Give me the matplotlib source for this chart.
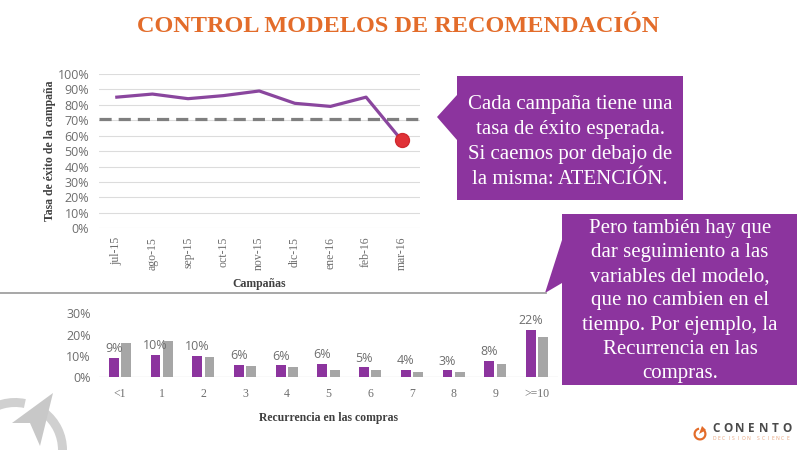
import matplotlib
matplotlib.use("Agg")
import matplotlib.pyplot as plt
from matplotlib.patches import Polygon, Wedge
from matplotlib.ticker import PercentFormatter

# ---------------- data ----------------
campaigns = ["jul-15", "ago-15", "sep-15", "oct-15", "nov-15", "dic-15", "ene-16", "feb-16", "mar-16"]
success_rate = [0.85, 0.87, 0.84, 0.86, 0.89, 0.81, 0.79, 0.85, 0.57]
expected_rate = 0.71

recurrence_cats = ["<1", "1", "2", "3", "4", "5", "6", "7", "8", "9", ">=10"]
recurrence_now = [0.090, 0.104, 0.100, 0.058, 0.056, 0.063, 0.046, 0.036, 0.032, 0.076, 0.223]
recurrence_ref = [0.160, 0.172, 0.093, 0.053, 0.050, 0.034, 0.034, 0.027, 0.027, 0.063, 0.188]

title_text = "CONTROL MODELOS DE RECOMENDACIÓN"
callout1_text = "Cada campaña tiene una\ntasa de éxito esperada.\nSi caemos por debajo de\nla misma: ATENCIÓN."
callout2_text = ("Pero también hay que\ndar seguimiento a las\nvariables del modelo,\n"
                 "que no cambien en el\ntiempo. Por ejemplo, la\nRecurrencia en las\ncompras.")
logo_name = "CONENTO"
logo_tag = "DECISION SCIENCE"

# ---------------- style ----------------
PURPLE = "#8C349E"
LINE_PURPLE = "#8A469E"
GRAY_BAR = "#A6A6A6"
ORANGE = "#E36C2A"
TICK_GRAY = "#6E6E6E"
SERIF = ["Liberation Serif", "DejaVu Serif"]
SANS = ["Open Sans", "DejaVu Sans"]

W, H = 800, 450
fig = plt.figure(figsize=(8, 4.5), dpi=100)
fig.patch.set_facecolor("white")


def px_axes(left, top, right, bottom, **kw):
    return fig.add_axes([left / W, 1 - bottom / H, (right - left) / W, (bottom - top) / H], **kw)


# ---------------- top line chart ----------------
ax1 = px_axes(99, 74, 419.5, 228.3)
xs = list(range(len(campaigns)))
ax1.set_xlim(-0.5, len(campaigns) - 0.5)
ax1.set_ylim(0, 1.0)
ax1.set_yticks([i / 10 for i in range(11)])
ax1.yaxis.set_major_formatter(PercentFormatter(1.0, decimals=0))
ax1.grid(axis="y", color="#DCDCDC", lw=0.8, zorder=0)
ax1.set_axisbelow(True)
for s in ax1.spines.values():
    s.set_visible(False)
ax1.tick_params(axis="both", length=0)
ax1.tick_params(axis="y", pad=7, labelsize=9, labelcolor=TICK_GRAY)
ax1.set_xticks(xs)
ax1.set_xticklabels(campaigns, rotation=90, fontsize=8.5, color=TICK_GRAY, family=SERIF)
ax1.tick_params(axis="x", pad=6)
for lab in ax1.get_yticklabels():
    lab.set_family(SANS)
ax1.axhline(expected_rate, color="#7F7F7F", lw=2.3, ls=(0, (3.8, 2.2)), zorder=2)
ax1.plot(xs, success_rate, color=LINE_PURPLE, lw=2.3, zorder=3, solid_joinstyle="round")
ax1.plot([xs[-1]], [success_rate[-1]], "o", ms=10, color="#E03137", mec="#D02A30", zorder=4)
ax1.set_ylabel("Tasa de éxito de la campaña", family=SERIF, fontsize=8.5, fontweight="bold",
               color="#404040", labelpad=1)
ax1.set_xlabel("Campañas", family=SERIF, fontsize=8.5, fontweight="bold", color="#404040", labelpad=6)

# ---------------- bottom bar chart ----------------
ax2 = px_axes(99, 313.3, 558, 377.3)
n = len(recurrence_cats)
pos = list(range(n))
bw = 0.235
gap = 0.06
ax2.set_xlim(-0.5, n - 0.5)
ax2.set_ylim(0, 0.30)
b1 = ax2.bar([p - (bw + gap) / 2 for p in pos], recurrence_now, width=bw, color=PURPLE, zorder=3)
b2 = ax2.bar([p + (bw + gap) / 2 for p in pos], recurrence_ref, width=bw, color=GRAY_BAR, zorder=3)
for rect, v in zip(b1, recurrence_now):
    ax2.annotate(f"{round(v * 100):d}%", (rect.get_x() + rect.get_width() / 2, v),
                 xytext=(0, 2), textcoords="offset points", ha="center", va="bottom",
                 fontsize=9, color=TICK_GRAY, family=SANS)
for s in ax2.spines.values():
    s.set_visible(False)
ax2.axhline(0, color="#E3E3E3", lw=1.0, zorder=2)
ax2.set_yticks([0, 0.1, 0.2, 0.3])
ax2.yaxis.set_major_formatter(PercentFormatter(1.0, decimals=0))
ax2.tick_params(axis="both", length=0)
ax2.tick_params(axis="y", pad=6, labelsize=9, labelcolor=TICK_GRAY)
for lab in ax2.get_yticklabels():
    lab.set_family(SANS)
ax2.set_xticks(pos)
ax2.set_xticklabels(recurrence_cats, fontsize=8.5, color=TICK_GRAY, family=SERIF)
ax2.tick_params(axis="x", pad=8)
ax2.set_xlabel("Recurrencia en las compras", family=SERIF, fontsize=8.5, fontweight="bold",
               color="#404040", labelpad=8)

# ---------------- overlay (title, callouts, logos) ----------------
ov = fig.add_axes([0, 0, 1, 1], zorder=10)
ov.set_xlim(0, W)
ov.set_ylim(H, 0)
ov.axis("off")
ov.patch.set_visible(False)

ov.text(398, 27, title_text, ha="center", va="center", fontsize=17.5, fontweight="bold",
        color=ORANGE, family=SERIF)

# separator line
ov.plot([0, 546], [293, 293], color="#A0A0A0", lw=1.3)

# callout 1
c1 = [(457, 76), (683, 76), (683, 200), (457, 200), (457, 140), (437, 117), (457, 95)]
ov.add_patch(Polygon(c1, closed=True, fc=PURPLE, ec="none"))
ov.text(570, 142, callout1_text, ha="center", va="center", fontsize=15, color="white",
        family=SERIF, linespacing=1.42)

# callout 2
c2 = [(562, 214), (797, 214), (797, 385), (562, 385), (562, 283), (545, 293), (562, 240)]
ov.add_patch(Polygon(c2, closed=True, fc=PURPLE, ec="none"))
ov.text(680, 301, callout2_text, ha="center", va="center", fontsize=15, color="white",
        family=SERIF, linespacing=1.36)

# decorative logo bottom-left
ov.add_patch(Wedge((15, 450), 52, -132, -78, width=9, fc="#D0D0D0", ec="none"))
ov.add_patch(Wedge((15, 450), 52, -52, 0, width=9, fc="#D0D0D0", ec="none"))
ov.add_patch(Polygon([(53, 393), (12, 423), (30, 423), (40, 446)], closed=True, fc="#C8C8C8", ec="none"))

# Conento logo
ov.add_patch(Wedge((700, 434), 6.5, -60, 260, width=2.2, fc=ORANGE, ec="none"))
ov.add_patch(Polygon([(699, 434), (702, 426), (706, 430)], closed=True, fc=ORANGE, ec="none"))
for i, ch in enumerate(logo_name):
    ov.text(716 + i * 11.8, 428.5, ch, ha="center", va="center", fontsize=8.5,
            color="#4A4A4A", family=SANS, fontweight="bold")
for i, ch in enumerate(logo_tag):
    ov.text(714 + i * 4.9, 438.5, ch, ha="center", va="center", fontsize=3.6,
            color="#E8A27A", family=SANS)

fig.savefig("out.png", dpi=100)
